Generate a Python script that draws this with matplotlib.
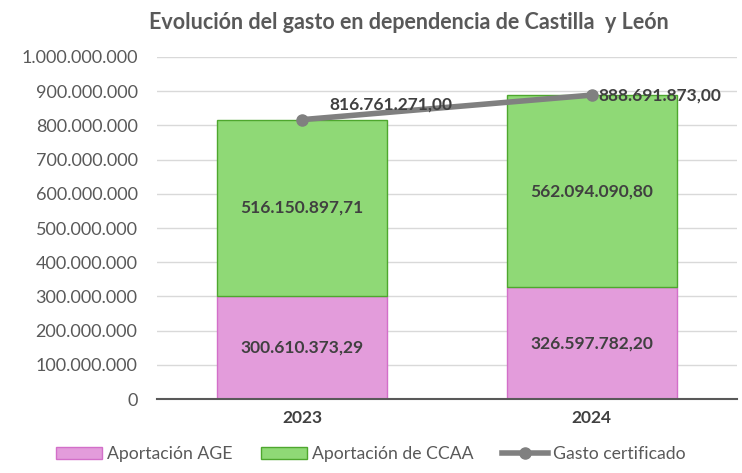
import matplotlib.pyplot as plt
import numpy as np

years = ['2023', '2024']
age = [300610373.29, 326597782.20]
ccaa = [516150897.71, 562094090.80]
total = [816761271.00, 888691873.00]
series_names = ['Aportación AGE', 'Aportación de CCAA', 'Gasto certificado']


def fmt_es(v, dec=2):
    s = f'{v:,.{dec}f}'
    return s.replace(',', 'X').replace('.', ',').replace('X', '.')


plt.rcParams['font.family'] = ['Lato', 'DejaVu Sans']

fig = plt.figure(figsize=(7.42, 4.73), dpi=100)
ax = fig.add_axes([0.2116, 0.1564, 0.7814, 0.7231])

x = np.arange(len(years))
w = 0.586
b1 = ax.bar(x, age, w, color='#E39CDB', edgecolor='#D36FC9', linewidth=1, zorder=2)
b2 = ax.bar(x, ccaa, w, bottom=age, color='#8FD976', edgecolor='#4EA72E', linewidth=1, zorder=2)
l1, = ax.plot(x, total, color='#808080', lw=4, marker='o', markersize=8, zorder=3)

for i in range(len(years)):
    ax.text(x[i], age[i] / 2, fmt_es(age[i]), ha='center', va='center',
            fontsize=12.5, fontweight='bold', color='#404040', zorder=4)
    ax.text(x[i], age[i] + ccaa[i] / 2, fmt_es(ccaa[i]), ha='center', va='center',
            fontsize=12.5, fontweight='bold', color='#404040', zorder=4)
offsets = [(20, 5), (5, 0)]
for i in range(len(years)):
    ax.annotate(fmt_es(total[i]), (x[i], total[i]), xytext=offsets[i], textcoords='offset points',
                ha='left', va='bottom' if i == 0 else 'center',
                fontsize=12.5, fontweight='bold', color='#404040', zorder=4)

ax.set_xlim(-0.5, 1.5)
ax.set_ylim(0, 1e9)
ticks = np.arange(0, 1.01e9, 1e8)
ax.set_yticks(ticks)
ax.set_yticklabels([fmt_es(t, 0) for t in ticks], fontsize=13, color='#595959')
ax.set_xticks(x)
ax.set_xticklabels(years, fontsize=12.5, fontweight='bold', color='#404040')
ax.tick_params(length=0, pad=8)
ax.tick_params(axis='y', pad=14)
ax.yaxis.grid(True, color='#D9D9D9', lw=1, zorder=0)
for s in ['top', 'right', 'left']:
    ax.spines[s].set_visible(False)
ax.spines['bottom'].set_color('#595959')
ax.spines['bottom'].set_linewidth(1.5)

ax.set_title('Evolución del gasto en dependencia de Castilla  y León', fontsize=15.5,
             fontweight='bold', color='#595959', pad=20, x=0.435)

fig.legend([b1, b2, l1], series_names, loc='lower center', bbox_to_anchor=(0.5, -0.01), ncol=3,
           frameon=False, fontsize=12.7, labelcolor='#595959', handlelength=2.6,
           handletextpad=0.3, columnspacing=1.6)

fig.savefig('out.png', dpi=100)
